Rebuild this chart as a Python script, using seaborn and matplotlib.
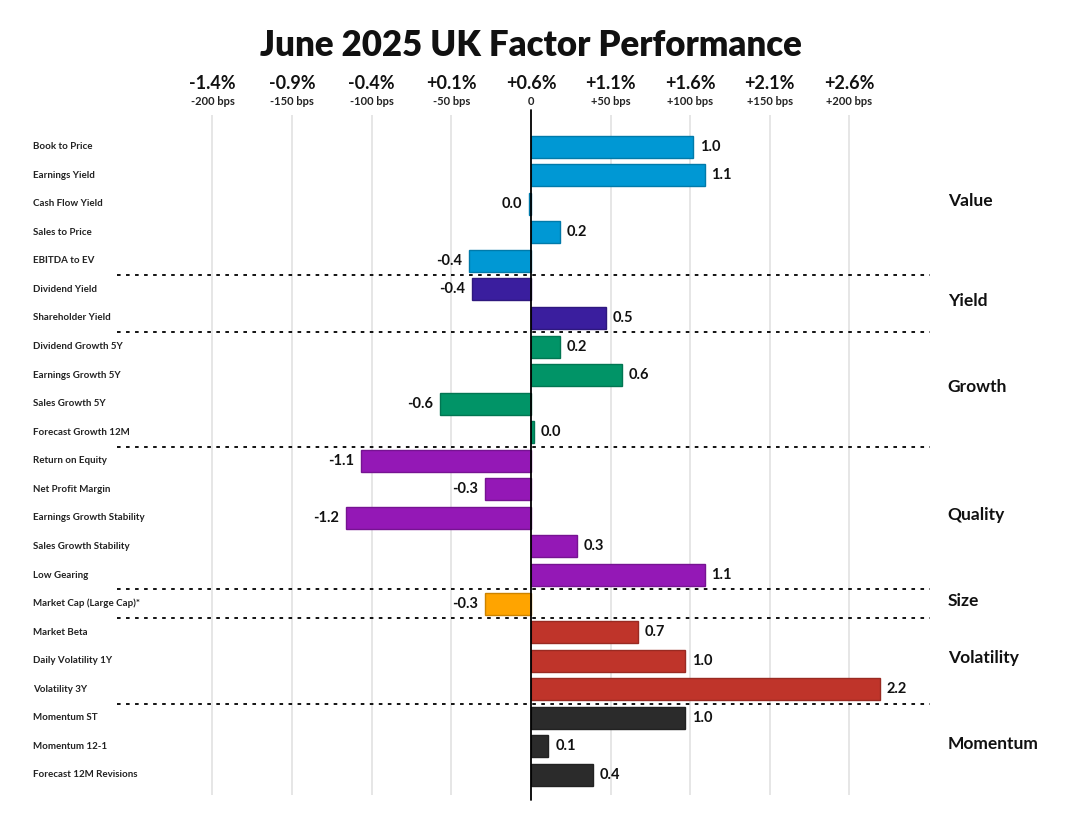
import numpy as np
import pandas as pd
import matplotlib
matplotlib.use("Agg")
import matplotlib.pyplot as plt
import matplotlib.colors as mcolors
from matplotlib.transforms import blended_transform_factory
import seaborn as sns

# Datos del gráfico
factores = ['Book to Price', 'Earnings Yield', 'Cash Flow Yield', 'Sales to Price', 'EBITDA to EV',
            'Dividend Yield', 'Shareholder Yield',
            'Dividend Growth 5Y', 'Earnings Growth 5Y', 'Sales Growth 5Y', 'Forecast Growth 12M',
            'Return on Equity', 'Net Profit Margin', 'Earnings Growth Stability', 'Sales Growth Stability', 'Low Gearing',
            'Market Cap (Large Cap)*',
            'Market Beta', 'Daily Volatility 1Y', 'Volatility 3Y',
            'Momentum ST', 'Momentum 12-1', 'Forecast 12M Revisions']
grupos = ['Value'] * 5 + ['Yield'] * 2 + ['Growth'] * 4 + ['Quality'] * 5 + ['Size'] + ['Volatility'] * 3 + ['Momentum'] * 3
valores = [1.02, 1.09, -0.01, 0.18, -0.39,
           -0.37, 0.47,
           0.18, 0.57, -0.57, 0.02,
           -1.07, -0.29, -1.16, 0.29, 1.09,
           -0.29,
           0.67, 0.97, 2.19,
           0.97, 0.11, 0.39]
colores = {'Value': '#0098d4', 'Yield': '#3a1e9e', 'Growth': '#019467', 'Quality': '#9418b6',
           'Size': '#ffa400', 'Volatility': '#bf342a', 'Momentum': '#2b2b2b'}

bps_ticks = [-200, -150, -100, -50, 0, 50, 100, 150, 200]
pct_labels = ['-1.4%', '-0.9%', '-0.4%', '+0.1%', '+0.6%', '+1.1%', '+1.6%', '+2.1%', '+2.6%']
bps_labels = ['-200 bps', '-150 bps', '-100 bps', '-50 bps', '0', '+50 bps', '+100 bps', '+150 bps', '+200 bps']

df = pd.DataFrame({'factor': factores, 'grupo': grupos, 'valor': valores})

sns.set_style('white')
plt.rcParams['font.family'] = ['Lato', 'DejaVu Sans']

fig = plt.figure(figsize=(10.71, 8.30), dpi=100)
ax = fig.add_axes([0.1092, 0.0422, 0.759, 0.819])

# Rejilla vertical
for b in bps_ticks:
    if b != 0:
        ax.axvline(b / 100, color='#e2e2e2', lw=1.2, zorder=0)

sns.barplot(data=df, y='factor', x='valor', hue='grupo', palette=colores, orient='h',
            dodge=False, width=0.77, saturation=1, legend=False, ax=ax, zorder=2)

for p in ax.patches:
    fc = mcolors.to_rgb(p.get_facecolor())
    p.set_edgecolor(tuple(c * 0.8 for c in fc))
    p.set_linewidth(1.0)

ax.axvline(0, color='black', lw=1.3, ymin=-0.008, ymax=1.008, clip_on=False, zorder=3)

ax.set_xlim(-2.6, 2.505)
ax.set_ylim(22.7, -1.1)
ax.set_xticks([])
ax.set_yticks([])
ax.set_xlabel('')
ax.set_ylabel('')
for s in ax.spines.values():
    s.set_visible(False)

# Etiquetas de valor
for i, v in enumerate(valores):
    txt = f"{abs(v):.1f}" if round(v, 1) == 0 else f"{v:.1f}"
    if v >= 0:
        ax.annotate(txt, (v, i), xytext=(5, 0), textcoords='offset points', ha='left', va='center',
                    fontsize=10.5, fontweight='bold', color='#111111')
    else:
        ax.annotate(txt, (v, i), xytext=(-5, 0), textcoords='offset points', ha='right', va='center',
                    fontsize=10.5, fontweight='bold', color='#111111')

# Separadores de grupo y nombres de grupo
orden = list(dict.fromkeys(grupos))
trans_fy = blended_transform_factory(fig.transFigure, ax.transData)
for g in orden:
    idx = [i for i, x in enumerate(grupos) if x == g]
    if idx[-1] < len(grupos) - 1:
        ax.axhline(idx[-1] + 0.5, color='black', lw=1.3, linestyle=(0, (2, 3)), zorder=4)
    ax.text(0.885, (idx[0] + idx[-1]) / 2 - 0.1, g, transform=trans_fy, ha='left', va='center',
            fontsize=12.5, fontweight='bold', color='#111111')

# Nombres de factores a la izquierda
for i, f in enumerate(factores):
    ax.text(0.031, i, f, transform=trans_fy, ha='left', va='center', fontsize=7,
            fontweight='bold', color='#222222')

# Eje superior con dos líneas
trans_xf = blended_transform_factory(ax.transData, fig.transFigure)
for b, pl, bl in zip(bps_ticks, pct_labels, bps_labels):
    ax.text(b / 100, 0.899, pl, transform=trans_xf, ha='center', va='center', fontsize=13,
            fontweight='bold', color='#111111')
    ax.text(b / 100, 0.878, bl, transform=trans_xf, ha='center', va='center', fontsize=8,
            fontweight='bold', color='#222222')

fig.text(0.496, 0.945, 'June 2025 UK Factor Performance', ha='center', va='center',
         fontsize=25, fontweight='heavy', color='#111111')

fig.savefig('out.png', dpi=100)
